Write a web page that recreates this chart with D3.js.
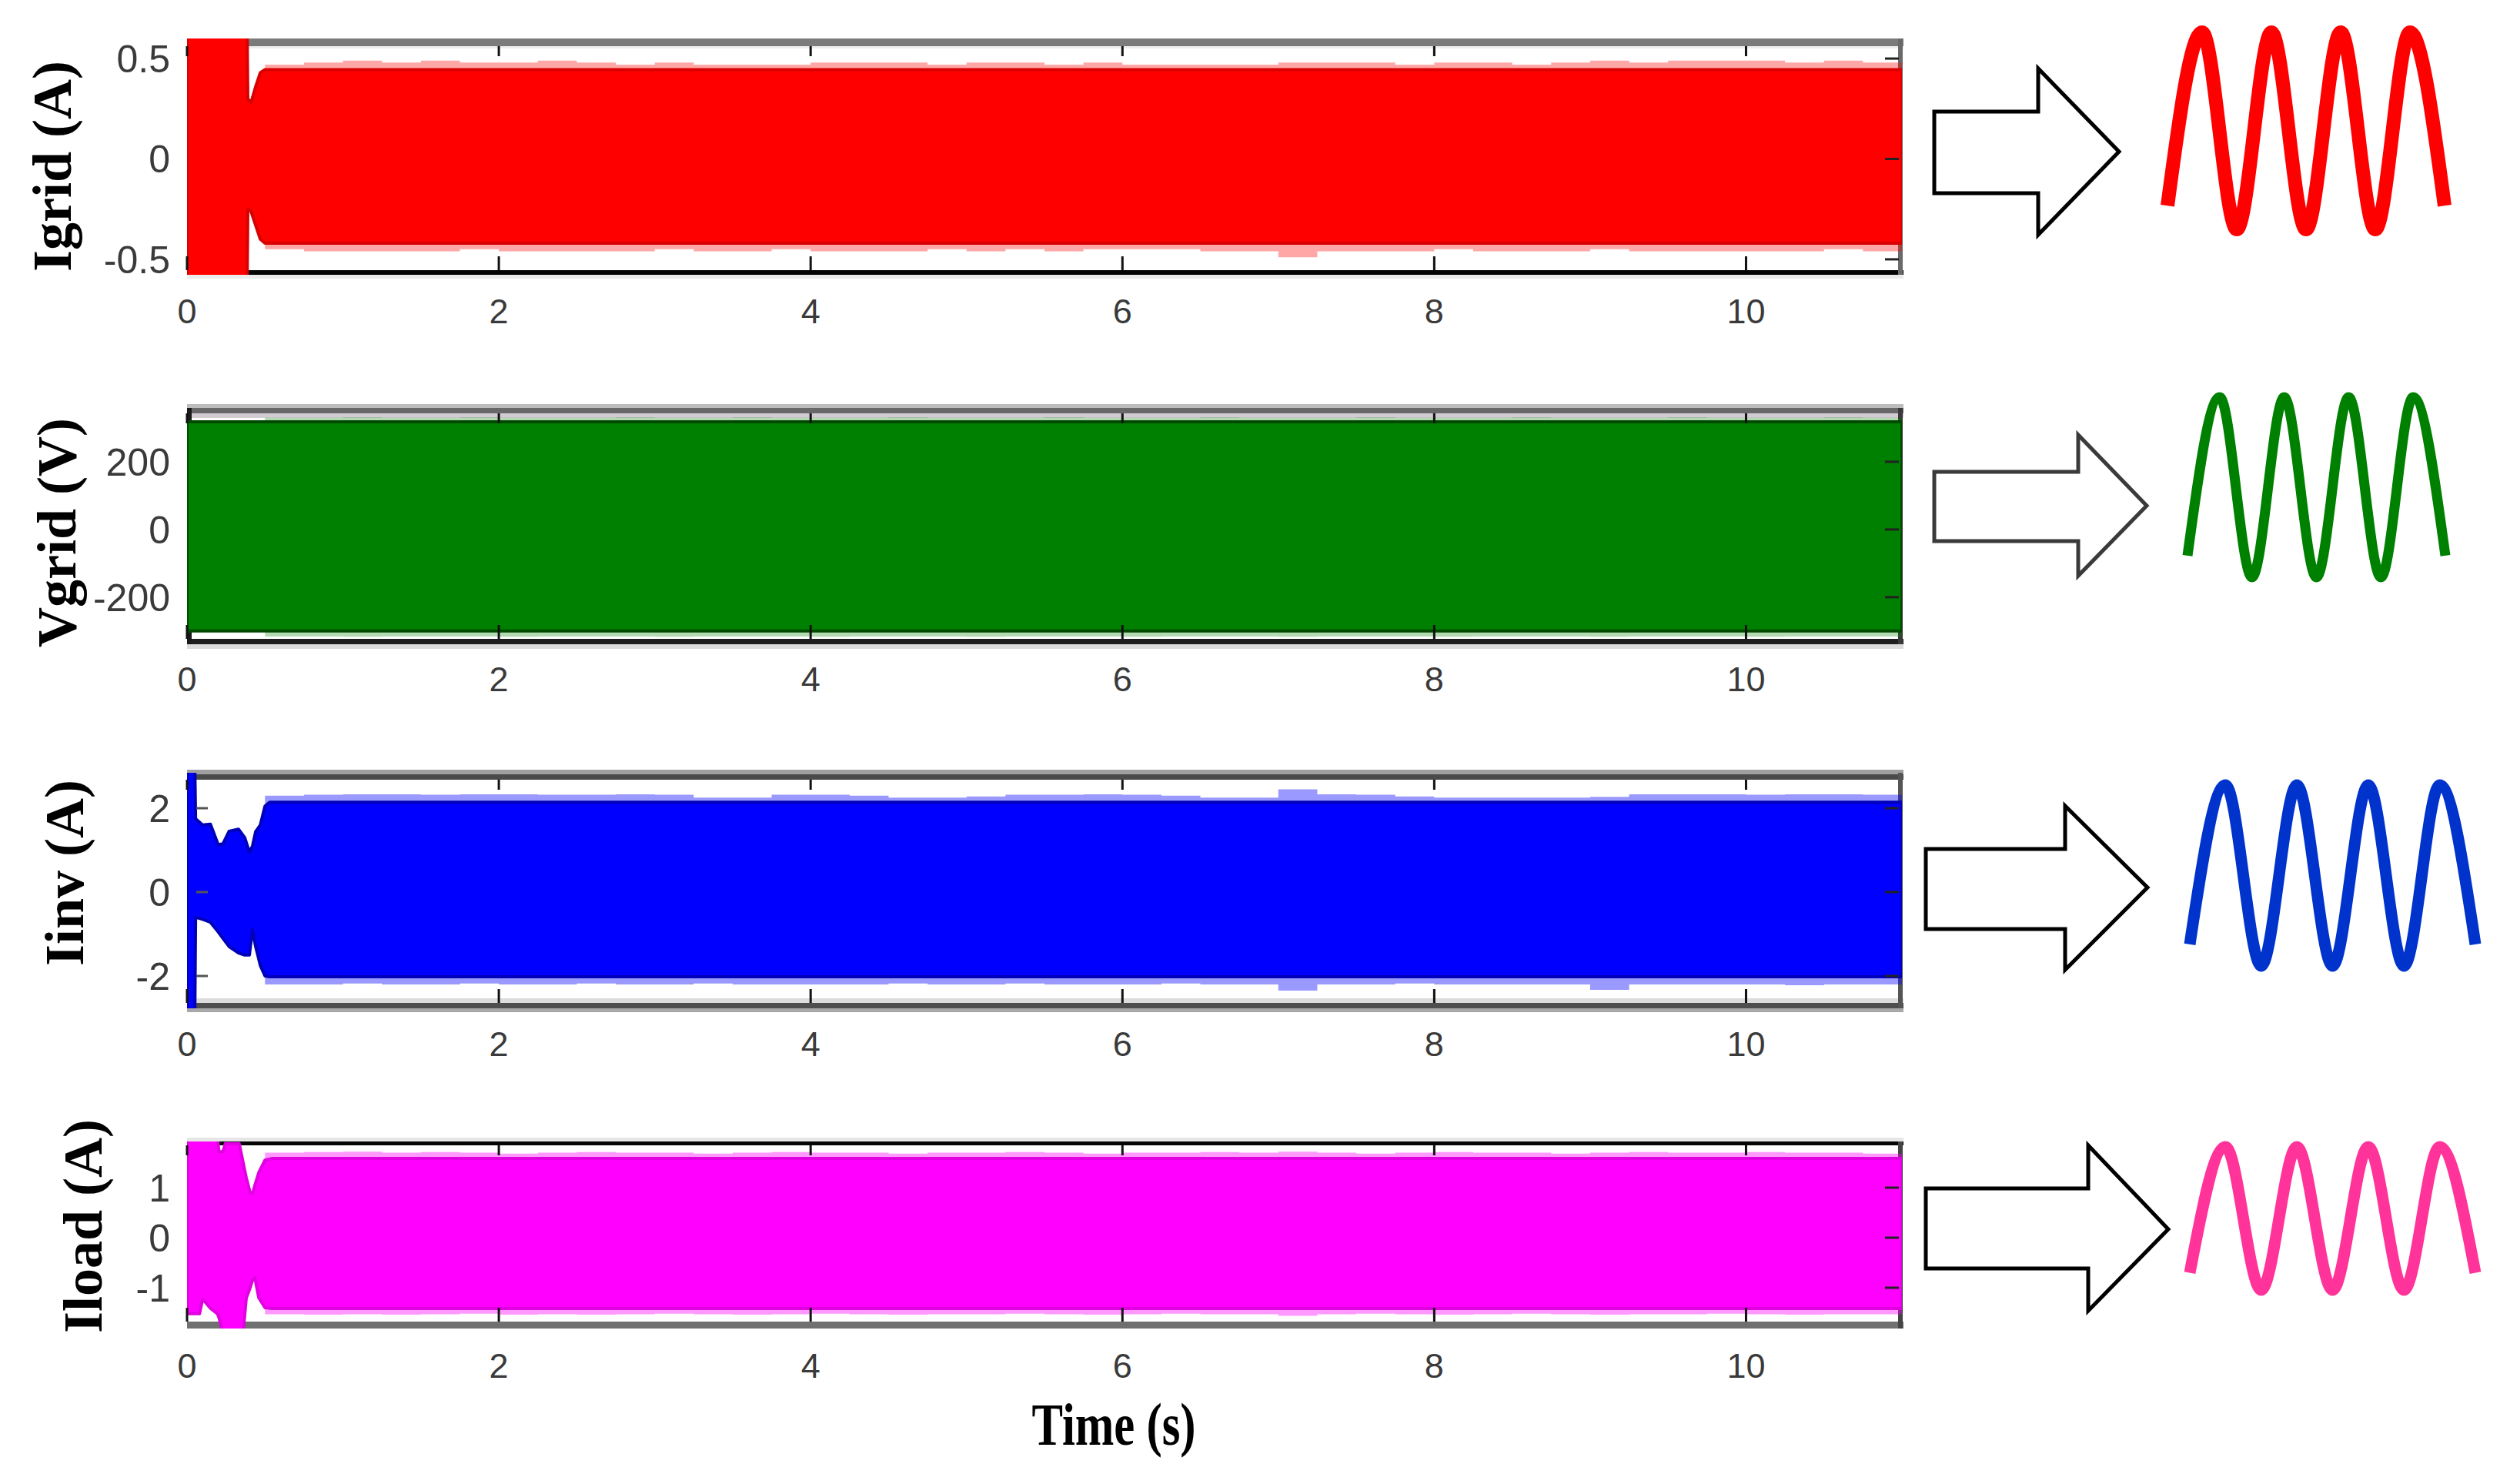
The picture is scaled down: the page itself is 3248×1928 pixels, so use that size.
<!DOCTYPE html>
<html><head><meta charset="utf-8">
<script src="https://cdn.jsdelivr.net/npm/d3@7"></script>
<style>html,body{margin:0;padding:0;background:#fff;} svg{display:block;}</style>
</head><body>
<svg id="chart" width="3248" height="1928"></svg>
<script>
// ---------------- DATA ----------------
const xTicks = [0, 2, 4, 6, 8, 10];
const xTickLabels = ["0", "2", "4", "6", "8", "10"];
const timeLabel = "Time (s)";
const panelLabels = ["Igrid (A)", "Vgrid (V)", "Iinv (A)", "Iload (A)"];

const igridYTicks = [-0.5, 0, 0.5];   const igridYTickLabels = ["-0.5", "0", "0.5"];
const vgridYTicks = [-200, 0, 200];   const vgridYTickLabels = ["-200", "0", "200"];
const iinvYTicks  = [-2, 0, 2];       const iinvYTickLabels  = ["-2", "0", "2"];
const iloadYTicks = [-1, 0, 1];       const iloadYTickLabels = ["-1", "0", "1"];

// envelope of the dense 50 Hz waveform (upper / lower)
const igridT  = [0, 0.385, 0.39, 0.41, 0.44, 0.47, 0.5, 0.55, 11];
const igridHi = [0.7, 0.7, 0.30, 0.28, 0.36, 0.43, 0.445, 0.445, 0.445];
const igridLo = [-0.7, -0.7, -0.25, -0.26, -0.33, -0.40, -0.42, -0.42, -0.42];

const vgridT  = [0, 11];
const vgridHi = [318, 318];
const vgridLo = [-300, -300];

const iinvT  = [0, 0.05, 0.055, 0.1, 0.15, 0.2, 0.23, 0.27, 0.33, 0.37, 0.4, 0.42, 0.44, 0.47, 0.5, 0.53, 11];
const iinvHi = [3, 3, 1.75, 1.6, 1.62, 1.13, 1.15, 1.45, 1.5, 1.3, 0.95, 1.1, 1.44, 1.6, 2.05, 2.14, 2.14];
const iinvLo = [-3, -3, -0.6, -0.65, -0.72, -0.95, -1.1, -1.3, -1.45, -1.5, -1.5, -0.9, -1.3, -1.75, -2.0, -2.02, -2.02];

const iloadT  = [0, 0.08, 0.1, 0.12, 0.15, 0.195, 0.205, 0.23, 0.245, 0.335, 0.36, 0.38, 0.405, 0.42, 0.435, 0.46, 0.5, 0.55, 11];
const iloadHi = [2.0, 2.0, 2.0, 2.0, 2.0, 2.0, 1.72, 1.72, 1.88, 1.88, 1.5, 1.2, 0.9, 0.88, 1.05, 1.3, 1.55, 1.585, 1.585];
const iloadLo = [-1.52, -1.52, -1.23, -1.3, -1.41, -1.52, -1.6, -1.9, -1.9, -1.9, -1.9, -1.21, -1.0, -0.85, -0.8, -1.2, -1.4, -1.415, -1.415];

// peak (spike) envelope in steady state
const spikeT = [0.5,0.75,1,1.25,1.5,1.75,2,2.25,2.5,2.75,3,3.25,3.5,3.75,4,4.25,4.5,4.75,5,5.25,5.5,5.75,6,6.25,6.5,6.75,7,7.25,7.5,7.75,8,8.25,8.5,8.75,9,9.25,9.5,9.75,10,10.25,10.5,10.75,11];
const igridPkHi = [0.47,0.48,0.49,0.48,0.49,0.48,0.48,0.49,0.48,0.47,0.48,0.47,0.47,0.47,0.48,0.48,0.48,0.47,0.48,0.48,0.47,0.48,0.47,0.47,0.47,0.47,0.48,0.48,0.48,0.47,0.48,0.48,0.47,0.48,0.49,0.48,0.49,0.49,0.49,0.48,0.49,0.48,0.48];
const igridPkLo = [-0.45,-0.46,-0.46,-0.46,-0.46,-0.45,-0.46,-0.46,-0.46,-0.46,-0.45,-0.46,-0.46,-0.45,-0.46,-0.46,-0.46,-0.45,-0.46,-0.45,-0.46,-0.45,-0.45,-0.45,-0.46,-0.46,-0.49,-0.46,-0.46,-0.46,-0.45,-0.46,-0.46,-0.46,-0.45,-0.46,-0.46,-0.46,-0.46,-0.46,-0.45,-0.46,-0.46];
const vgridPkHi = [330,330,331,330,330,331,330,330,330,331,330,330,331,330,330,330,331,330,330,330,331,330,330,330,331,330,330,330,331,330,330,330,331,330,330,330,331,330,330,330,331,330,330];
const vgridPkLo = [-316,-316,-317,-316,-316,-316,-317,-316,-316,-316,-317,-316,-316,-316,-317,-316,-316,-316,-317,-316,-316,-316,-317,-316,-316,-316,-317,-316,-316,-316,-317,-316,-316,-316,-317,-316,-316,-316,-317,-316,-316,-316,-316];
const iinvPkHi = [2.3,2.32,2.33,2.33,2.32,2.33,2.33,2.32,2.32,2.33,2.32,2.25,2.25,2.32,2.32,2.3,2.25,2.25,2.28,2.32,2.32,2.33,2.32,2.3,2.25,2.25,2.45,2.33,2.32,2.28,2.25,2.25,2.25,2.25,2.27,2.33,2.33,2.33,2.32,2.33,2.33,2.32,2.32];
const iinvPkLo = [-2.2,-2.2,-2.18,-2.2,-2.2,-2.18,-2.2,-2.2,-2.18,-2.2,-2.2,-2.18,-2.2,-2.2,-2.2,-2.2,-2.18,-2.2,-2.2,-2.18,-2.2,-2.2,-2.2,-2.18,-2.2,-2.2,-2.35,-2.2,-2.2,-2.18,-2.2,-2.2,-2.2,-2.2,-2.33,-2.2,-2.2,-2.2,-2.2,-2.22,-2.2,-2.2,-2.2];
const iloadPkHi = [1.7,1.71,1.72,1.7,1.71,1.7,1.68,1.7,1.71,1.7,1.7,1.68,1.7,1.71,1.7,1.7,1.68,1.7,1.7,1.71,1.7,1.68,1.7,1.7,1.71,1.7,1.72,1.7,1.68,1.7,1.71,1.7,1.7,1.68,1.7,1.71,1.7,1.7,1.71,1.7,1.7,1.68,1.7];
const iloadPkLo = [-1.53,-1.54,-1.53,-1.54,-1.53,-1.52,-1.54,-1.53,-1.54,-1.53,-1.52,-1.53,-1.54,-1.53,-1.52,-1.53,-1.54,-1.53,-1.53,-1.52,-1.53,-1.54,-1.53,-1.52,-1.53,-1.53,-1.56,-1.53,-1.52,-1.53,-1.54,-1.53,-1.52,-1.53,-1.54,-1.53,-1.53,-1.52,-1.53,-1.54,-1.53,-1.53,-1.53];

// zoomed sine-wave inset: level of each half-cycle extremum (0 = trough, 1 = peak)
const waveLevels = [0.12, 1, 0, 1, 0, 1, 0, 1, 0.12];

// ---------------- LAYOUT ----------------
const W = 3248, H = 1928;
const svg = d3.select("#chart");
svg.append("rect").attr("width", W).attr("height", H).attr("fill", "#fff");

const x = d3.scaleLinear().domain([0, 11]).range([243, 2471]);
const X0 = 243, X1 = 2473;

const zip = (t, hi, lo) => t.map((v, i) => ({t: v, hi: hi[i], lo: lo[i]}));

const panels = [
  { label: panelLabels[0], yTicks: igridYTicks, yTickLabels: igridYTickLabels,
    env: zip(igridT, igridHi, igridLo), spk: zip(spikeT, igridPkHi, igridPkLo),
    domain: [-0.577, 0.6], range: [357, 50],
    color: "#ff0000", edge: "#d80000", spkOpacity: 0.35,
    bands: [[50,60,"#7b7b7b"],[60,63,"#eeeeee"],[351,357,"#050505"],[357,362,"#ececec"]],
    vlines: [[2466,2472,"#6a6a6a"]],
    topTickY: 60, botTickY: 351, xLabelY: 420, yLabelX: 92, yLabelY: 216, leftTicks: false,
    arrow: [2513, 2648, 2753, 145, 251, 89, 305, 197], arrowColor: "#000",
    wave: {x0: 2816, x1: 3176, yPeak: 42, yTrough: 298, w: 18, color: "#ff0000"} },
  { label: panelLabels[1], yTicks: vgridYTicks, yTickLabels: vgridYTickLabels,
    env: zip(vgridT, vgridHi, vgridLo), spk: zip(spikeT, vgridPkHi, vgridPkLo),
    domain: [-339, 359], range: [837, 530],
    color: "#008000", edge: "#004a00", spkOpacity: 0.3,
    bands: [[525,530,"#bdbdbd"],[530,537,"#686868"],[537,543,"#d2ccd2"],[830,837,"#1e1e1e"],[837,843,"#dcdcdc"]],
    vlines: [[243,249,"#1a1a1a"],[2466,2472,"#3a3a3a"]],
    topTickY: 537, botTickY: 830, xLabelY: 898, yLabelX: 98, yLabelY: 692, leftTicks: false,
    arrow: [2513, 2700, 2789, 613, 703, 565, 748, 657], arrowColor: "#3a3a3a",
    wave: {x0: 2842, x1: 3177, yPeak: 516, yTrough: 750, w: 13, color: "#008000"} },
  { label: panelLabels[2], yTicks: iinvYTicks, yTickLabels: iinvYTickLabels,
    env: zip(iinvT, iinvHi, iinvLo), spk: zip(spikeT, iinvPkHi, iinvPkLo),
    domain: [-2.771, 2.844], range: [1310, 1004],
    color: "#0000ff", edge: "#0000b8", spkOpacity: 0.4,
    bands: [[1000,1006,"#a0a0a0"],[1006,1013,"#4a4a4a"],[1297,1303,"#dcdcdc"],[1303,1310,"#4e4e4e"],[1310,1315,"#a8a8a8"]],
    vlines: [[2466,2472,"#555555"]],
    topTickY: 1013, botTickY: 1303, xLabelY: 1372, yLabelX: 108, yLabelY: 1134, leftTicks: true,
    arrow: [2502, 2683, 2790, 1103, 1207, 1047, 1260, 1153], arrowColor: "#000",
    wave: {x0: 2845, x1: 3216, yPeak: 1020, yTrough: 1255, w: 15, color: "#0033cc"} },
  { label: panelLabels[3], yTicks: iloadYTicks, yTickLabels: iloadYTickLabels,
    env: zip(iloadT, iloadHi, iloadLo), spk: zip(spikeT, iloadPkHi, iloadPkLo),
    domain: [-1.815, 1.923], range: [1726, 1483],
    color: "#ff00ff", edge: "#e000e0", spkOpacity: 0.4,
    bands: [[1478,1483,"#e6e6e6"],[1483,1488,"#050505"],[1717,1726,"#707070"]],
    vlines: [[2466,2472,"#444444"]],
    topTickY: 1488, botTickY: 1717, xLabelY: 1790, yLabelX: 132, yLabelY: 1593, leftTicks: false,
    arrow: [2502, 2713, 2817, 1544, 1648, 1488, 1703, 1597], arrowColor: "#000",
    wave: {x0: 2845, x1: 3216, yPeak: 1490, yTrough: 1676, w: 15, color: "#ff3399"} }
];

const defs = svg.append("defs");

panels.forEach((p, i) => {
  const y = d3.scaleLinear().domain(p.domain).range(p.range);
  const g = svg.append("g");
  const yTop = p.range[1], yBot = p.range[0];

  // frame bands
  p.bands.forEach(b => g.append("rect").attr("x", X0).attr("y", b[0]).attr("width", X1 - X0).attr("height", b[1] - b[0]).attr("fill", b[2]));
  p.vlines.forEach(v => g.append("rect").attr("x", v[0]).attr("y", yTop).attr("width", v[1] - v[0]).attr("height", yBot - yTop).attr("fill", v[2]));

  // clip
  const cid = "clip" + i;
  defs.append("clipPath").attr("id", cid).append("rect")
    .attr("x", X0).attr("y", yTop).attr("width", 2471 - X0).attr("height", yBot - yTop);
  const sg = g.append("g").attr("clip-path", `url(#${cid})`);

  const spikeArea = d3.area().x(d => x(d.t)).y0(d => y(d.lo)).y1(d => y(d.hi)).curve(d3.curveStepAfter);
  sg.append("path").datum(p.spk).attr("d", spikeArea).attr("fill", p.color).attr("fill-opacity", p.spkOpacity);

  const bodyArea = d3.area().x(d => x(d.t)).y0(d => y(d.lo)).y1(d => y(d.hi)).curve(d3.curveLinear);
  sg.append("path").datum(p.env).attr("d", bodyArea).attr("fill", p.color)
    .attr("stroke", p.edge).attr("stroke-width", 4).attr("stroke-linejoin", "round");

  // x ticks (inward, top & bottom)
  xTicks.forEach(t => {
    g.append("line").attr("x1", x(t)).attr("x2", x(t)).attr("y1", p.topTickY).attr("y2", p.topTickY + 13)
      .attr("stroke", "#111").attr("stroke-width", 3);
    g.append("line").attr("x1", x(t)).attr("x2", x(t)).attr("y1", p.botTickY).attr("y2", p.botTickY - 18)
      .attr("stroke", "#111").attr("stroke-width", 3);
  });
  // y ticks
  p.yTicks.forEach(v => {
    g.append("line").attr("x1", 2467).attr("x2", 2449).attr("y1", y(v)).attr("y2", y(v))
      .attr("stroke", "#222").attr("stroke-width", 3);
    if (p.leftTicks) g.append("line").attr("x1", 255).attr("x2", 270).attr("y1", y(v)).attr("y2", y(v))
      .attr("stroke", "#555").attr("stroke-width", 3);
  });

  // tick labels
  g.selectAll(".xl").data(xTicks).enter().append("text")
    .attr("x", d => x(d)).attr("y", p.xLabelY).attr("text-anchor", "middle")
    .attr("font-family", "'Liberation Sans', Arial, sans-serif").attr("font-size", 45).attr("fill", "#3a3a3a")
    .text((d, k) => xTickLabels[k]);
  g.selectAll(".yl").data(p.yTicks).enter().append("text")
    .attr("x", 221).attr("y", d => y(d)).attr("dy", "0.36em").attr("text-anchor", "end")
    .attr("font-family", "'Liberation Sans', Arial, sans-serif").attr("font-size", 50).attr("fill", "#3a3a3a")
    .text((d, k) => p.yTickLabels[k]);

  // y label
  g.append("text").attr("transform", `translate(${p.yLabelX},${p.yLabelY}) rotate(-90)`)
    .attr("text-anchor", "middle").attr("font-family", "'Liberation Serif', 'Times New Roman', serif")
    .attr("font-weight", "bold").attr("font-size", 72).attr("fill", "#000").text(p.label);

  // block arrow
  const [ax0, axb, axt, bt, bb, ht, hb, yt] = p.arrow;
  const pts = [[ax0, bt], [axb, bt], [axb, ht], [axt, yt], [axb, hb], [axb, bb], [ax0, bb]];
  g.append("path").attr("d", d3.line()(pts) + "Z").attr("fill", "#fff")
    .attr("stroke", p.arrowColor).attr("stroke-width", 5).attr("stroke-linejoin", "miter");

  // zoomed sine inset
  const wx = d3.scaleLinear().domain([0, waveLevels.length - 1]).range([p.wave.x0, p.wave.x1]);
  const wy = d3.scaleLinear().domain([0, 1]).range([p.wave.yTrough, p.wave.yPeak]);
  g.append("path").datum(waveLevels)
    .attr("d", d3.line().x((d, k) => wx(k)).y(d => wy(d)).curve(d3.curveMonotoneX))
    .attr("fill", "none").attr("stroke", p.wave.color).attr("stroke-width", p.wave.w).attr("stroke-linecap", "butt");
});

// x axis title
svg.append("text").attr("x", 1447).attr("y", 1877).attr("text-anchor", "middle")
  .attr("font-family", "'Liberation Serif', 'Times New Roman', serif").attr("font-weight", "bold")
  .attr("font-size", 78).attr("textLength", 213).attr("lengthAdjust", "spacingAndGlyphs")
  .attr("fill", "#000").text(timeLabel);
</script>
</body></html>
